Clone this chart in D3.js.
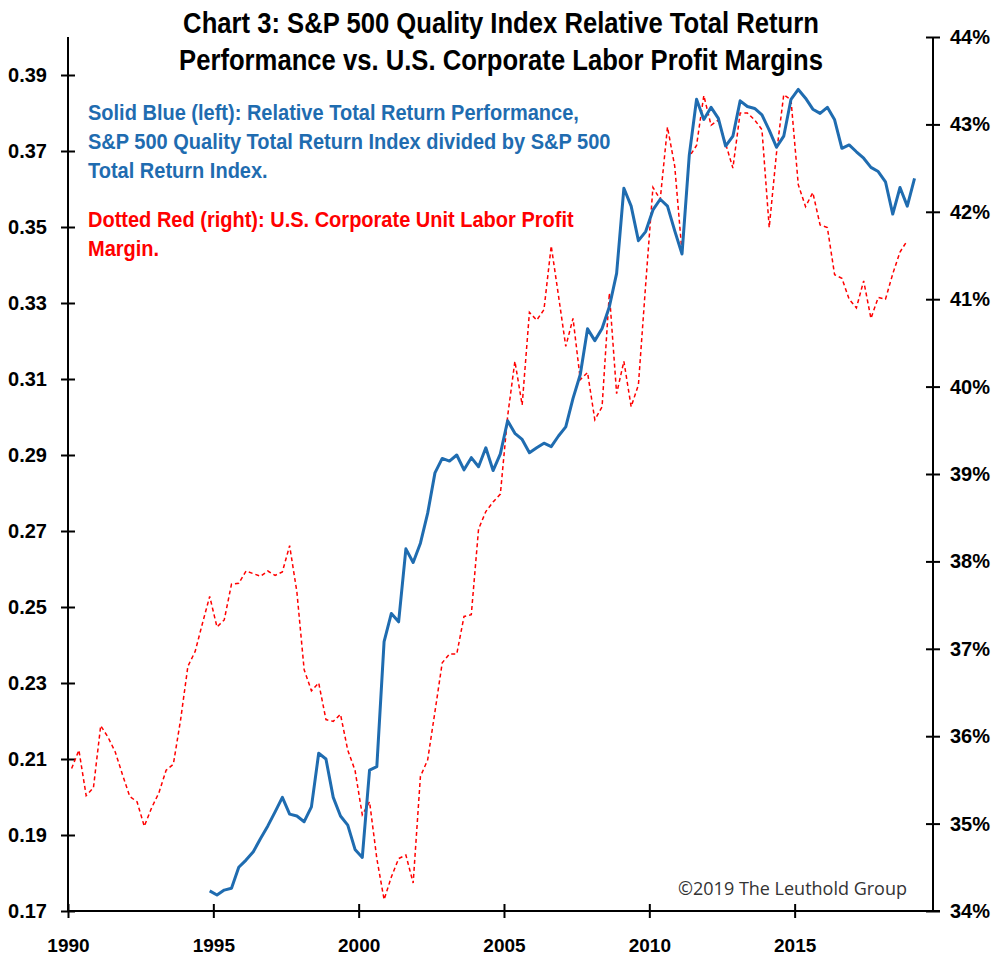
<!DOCTYPE html>
<html>
<head>
<meta charset="utf-8">
<script src="https://cdn.jsdelivr.net/npm/d3@7"></script>
<style>
  body { margin: 0; background: #fff; }
  svg text { font-family: "Liberation Sans", Arial, sans-serif; }
</style>
</head>
<body>
<script>
// quarterly series
let blueStart = 1994.875;
let blueValues = [
  0.1753, 0.1742, 0.1755, 0.1760, 0.1815, 0.1834, 0.1856, 0.1891, 0.1924, 0.1961,
  0.1999, 0.1955, 0.1950, 0.1935, 0.1974, 0.2115, 0.2100, 0.1999, 0.1950, 0.1926,
  0.1862, 0.1841, 0.2071, 0.2080, 0.2409, 0.2483, 0.2461, 0.2653, 0.2617, 0.2668,
  0.2747, 0.2853, 0.2891, 0.2884, 0.2900, 0.2861, 0.2893, 0.2869, 0.2919, 0.2859,
  0.2903, 0.2990, 0.2957, 0.2941, 0.2906, 0.2919, 0.2931, 0.2922, 0.2950, 0.2974,
  0.3049, 0.3112, 0.3232, 0.3201, 0.3233, 0.3290, 0.3378, 0.3602, 0.3555, 0.3464,
  0.3488, 0.3545, 0.3573, 0.3555, 0.3490, 0.3429, 0.3689, 0.3836, 0.3783, 0.3815,
  0.3786, 0.3713, 0.3739, 0.3832, 0.3817, 0.3812, 0.3795, 0.3755, 0.3710, 0.3739,
  0.3836, 0.3862, 0.3839, 0.3810, 0.3799, 0.3815, 0.3782, 0.3707, 0.3716, 0.3698,
  0.3681, 0.3657, 0.3646, 0.3619, 0.3534, 0.3604, 0.3555, 0.3628
];

let redStart = 1990.125;
let redValues = [
  35.63, 35.84, 35.32, 35.41, 36.12, 35.99, 35.82, 35.56, 35.31, 35.25,
  34.97, 35.18, 35.35, 35.61, 35.68, 36.19, 36.80, 36.97, 37.29, 37.60,
  37.25, 37.33, 37.74, 37.75, 37.89, 37.86, 37.83, 37.89, 37.84, 37.88,
  38.18, 37.65, 36.76, 36.52, 36.61, 36.19, 36.17, 36.25, 35.84, 35.61,
  35.10, 35.25, 34.60, 34.13, 34.39, 34.60, 34.64, 34.32, 35.54, 35.73,
  36.28, 36.84, 36.94, 36.94, 37.37, 37.39, 38.37, 38.57, 38.68, 38.77,
  39.66, 40.29, 39.79, 40.85, 40.76, 40.88, 41.61, 41.04, 40.46, 40.78,
  40.08, 40.16, 39.62, 39.77, 41.07, 39.92, 40.29, 39.77, 40.02, 41.17,
  42.28, 42.14, 42.97, 42.52, 41.53, 42.63, 42.76, 43.33, 42.99, 43.05,
  42.78, 42.50, 43.13, 43.13, 43.05, 42.94, 41.82, 42.67, 43.34, 43.28,
  42.31, 42.06, 42.22, 41.85, 41.82, 41.28, 41.24, 41.00, 40.90, 41.21,
  40.78, 41.02, 41.00, 41.29, 41.54, 41.67
];

let yearTicks = [1990, 1995, 2000, 2005, 2010, 2015];
let leftTicks = [0.17, 0.19, 0.21, 0.23, 0.25, 0.27, 0.29, 0.31, 0.33, 0.35, 0.37, 0.39];
let rightTicks = [34, 35, 36, 37, 38, 39, 40, 41, 42, 43, 44];

let titleLines = [
  "Chart 3: S&P 500 Quality Index Relative Total Return",
  "Performance vs. U.S. Corporate Labor Profit Margins"
];
let blueNote = [
  "Solid Blue (left): Relative Total Return Performance,",
  "S&P 500 Quality Total Return Index divided by S&P 500",
  "Total Return Index."
];
let redNote = [
  "Dotted Red (right): U.S. Corporate Unit Labor Profit",
  "Margin."
];

let svgWidth = 1000;
let svgHeight = 962;
let plot = { left: 68, right: 933, top: 37, bottom: 911 };
let squeeze = 0.855;     // narrow look for the title
let noteSqueeze = 0.91;  // and for the notes

let svg = d3.select("body")
  .append("svg")
  .attr("width", svgWidth)
  .attr("height", svgHeight);

let xScale = d3.scaleLinear().domain([1990, 2019.76]).range([plot.left, plot.right]);
let yLeft = d3.scaleLinear().domain([0.17, 0.40]).range([plot.bottom, plot.top]);
let yRight = d3.scaleLinear().domain([34, 44]).range([plot.bottom, plot.top]);

let blueData = blueValues.map((v, i) => ({ t: blueStart + i * 0.25, v: v }));
let redData = redValues.map((v, i) => ({ t: redStart + i * 0.25, v: v }));

// axes
let leftAxis = svg.append("g")
  .attr("transform", `translate(${plot.left},0)`)
  .call(d3.axisLeft(yLeft).tickValues(leftTicks).tickFormat(d3.format(".2f")).tickSize(0).tickPadding(21));

let rightAxis = svg.append("g")
  .attr("transform", `translate(${plot.right},0)`)
  .call(d3.axisRight(yRight).tickValues(rightTicks).tickFormat(d => d + "%").tickSize(0).tickPadding(17));

let bottomAxis = svg.append("g")
  .attr("transform", `translate(0,${plot.bottom})`)
  .call(d3.axisBottom(xScale).tickValues(yearTicks).tickFormat(d3.format("d")).tickSize(0).tickPadding(28));

[leftAxis, rightAxis].forEach(g => {
  g.selectAll(".tick line").attr("x1", -7).attr("x2", 7);
});
bottomAxis.selectAll(".tick line").attr("y1", -7).attr("y2", 7);

[leftAxis, rightAxis, bottomAxis].forEach(g => {
  g.select(".domain").remove();
  g.selectAll(".tick line").attr("stroke", "#000").attr("stroke-width", 2);
  g.selectAll(".tick text")
    .attr("fill", "#000")
    .style("font-size", "20px")
    .style("font-weight", "bold");
});
bottomAxis.selectAll(".tick text").style("font-size", "19px");

// axis lines
svg.append("line").attr("x1", plot.left).attr("x2", plot.left).attr("y1", plot.top).attr("y2", plot.bottom + 1)
  .attr("stroke", "#000").attr("stroke-width", 2);
svg.append("line").attr("x1", plot.right).attr("x2", plot.right).attr("y1", plot.top).attr("y2", plot.bottom + 1)
  .attr("stroke", "#000").attr("stroke-width", 2);
svg.append("line").attr("x1", plot.left).attr("x2", 940).attr("y1", plot.bottom).attr("y2", plot.bottom)
  .attr("stroke", "#000").attr("stroke-width", 2);

// lines
let redLine = d3.line().x(d => xScale(d.t)).y(d => yRight(d.v));
let blueLine = d3.line().x(d => xScale(d.t)).y(d => yLeft(d.v));

svg.append("path")
  .datum(redData)
  .attr("d", redLine)
  .attr("fill", "none")
  .attr("stroke", "#ff0000")
  .attr("stroke-width", 1.5)
  .attr("stroke-dasharray", "4,3");

svg.append("path")
  .datum(blueData)
  .attr("d", blueLine)
  .attr("fill", "none")
  .attr("stroke", "#1f6cb0")
  .attr("stroke-width", 3)
  .attr("stroke-linejoin", "round");

// title
svg.selectAll(".title")
  .data(titleLines)
  .enter()
  .append("text")
  .attr("transform", (d, i) => `translate(501,${33 + i * 37}) scale(${squeeze},1)`)
  .attr("text-anchor", "middle")
  .style("font-size", "30px")
  .style("font-weight", "bold")
  .attr("fill", "#000")
  .text(d => d);

// notes
svg.selectAll(".blueNote")
  .data(blueNote)
  .enter()
  .append("text")
  .attr("transform", (d, i) => `translate(88,${120 + i * 29}) scale(${noteSqueeze},1)`)
  .style("font-size", "22px")
  .style("font-weight", "bold")
  .attr("fill", "#1f6cb0")
  .text(d => d);

svg.selectAll(".redNote")
  .data(redNote)
  .enter()
  .append("text")
  .attr("transform", (d, i) => `translate(88,${227 + i * 29}) scale(${noteSqueeze},1)`)
  .style("font-size", "22px")
  .style("font-weight", "bold")
  .attr("fill", "#ff0000")
  .text(d => d);

svg.append("text")
  .attr("x", 907)
  .attr("y", 895)
  .attr("text-anchor", "end")
  .style("font-family", "'Open Sans', sans-serif")
  .style("font-size", "18px")
  .attr("fill", "#333")
  .text("\u00a92019 The Leuthold Group");
</script>
</body>
</html>
